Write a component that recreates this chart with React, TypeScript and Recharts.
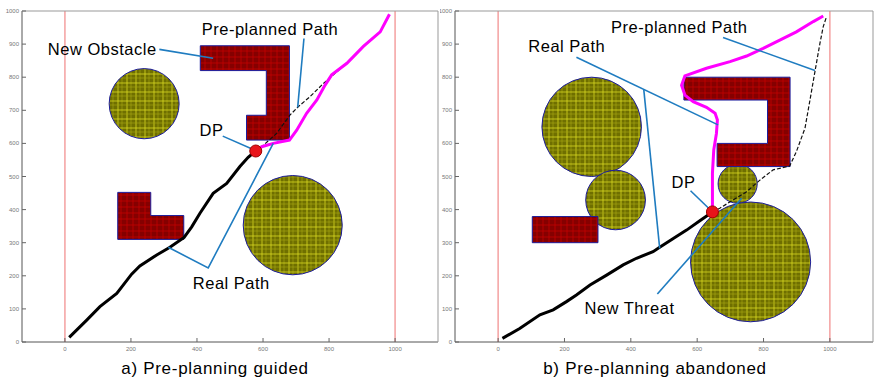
import { ComposedChart, XAxis, YAxis, Line, ReferenceLine, ReferenceArea, ReferenceDot } from "recharts";

// axis ticks (shared by both panels)
const xTicks = [0, 200, 400, 600, 800, 1000];
const yTicks = [0, 100, 200, 300, 400, 500, 600, 700, 800, 900, 1000];

// ---- panel a) Pre-planning guided ----
const circlesA = [
  { cx: 240, cy: 720, r: 106 },
  { cx: 690, cy: 353, r: 150 },
];
const obstacleA1 = [[410, 895], [680, 895], [680, 610], [550, 610], [550, 685], [610, 685], [610, 820], [410, 820]];
const obstacleA2 = [[160, 452], [260, 452], [260, 382], [360, 382], [360, 310], [160, 310]];
const realA = [[13, 14], [66, 66], [106, 107], [157, 147], [202, 205], [227, 230], [278, 263], [318, 286], [361, 316], [384, 348], [409, 389], [449, 449], [490, 479], [530, 530], [555, 558], [578, 577]];
const plannedA = [[578, 577], [596, 590], [641, 630], [682, 686], [707, 711], [742, 741], [783, 781], [813, 807], [864, 852], [914, 902], [955, 937], [983, 988]];
const afterA = [[578, 577], [596, 590], [631, 600], [680, 610], [702, 640], [732, 691], [763, 731], [788, 776], [808, 807], [854, 842], [904, 893], [955, 937], [983, 990]];
const dpA = [578, 577];
const leadersA = [
  [[286, 884], [449, 857]],
  [[724, 917], [705, 709]],
  [[478, 622], [574, 580]],
  [[313, 286], [434, 224], [631, 600]],
];
const labelsA = [
  { text: "New Obstacle", x: 113, y: 884 },
  { text: "Pre-planned Path", x: 621, y: 946 },
  { text: "DP", x: 444, y: 640 },
  { text: "Real Path", x: 504, y: 179 },
];

// ---- panel b) Pre-planning abandoned ----
const circlesB = [
  { cx: 282, cy: 650, r: 150 },
  { cx: 354, cy: 429, r: 90 },
  { cx: 722, cy: 478, r: 59 },
  { cx: 761, cy: 242, r: 181 },
];
const obstacleB1 = [[560, 800], [880, 800], [880, 530], [660, 530], [660, 600], [812, 600], [812, 731], [560, 731]];
const obstacleB2 = [[103, 379], [301, 379], [301, 300], [103, 300]];
const realB = [[13, 11], [65, 41], [126, 82], [166, 97], [206, 122], [236, 142], [277, 172], [327, 202], [377, 233], [417, 253], [467, 273], [487, 286], [528, 313], [568, 338], [608, 366], [646, 393]];
const plannedB = [[646, 393], [668, 404], [708, 429], [749, 454], [789, 489], [829, 520], [879, 532], [899, 575], [925, 646], [940, 731], [955, 817], [970, 902], [980, 953], [990, 983]];
const afterB = [[646, 393], [646, 429], [646, 510], [650, 580], [658, 630], [661, 671], [654, 691], [628, 709], [588, 726], [563, 746], [553, 776], [563, 804], [628, 827], [699, 847], [749, 864], [799, 887], [849, 912], [899, 937], [950, 968], [980, 985]];
const dpB = [646, 393];
const leadersB = [
  [[678, 920], [955, 820]],
  [[236, 860], [663, 656]],
  [[439, 763], [487, 283]],
  [[580, 457], [644, 395]],
  [[480, 145], [734, 434]],
];
const labelsB = [
  { text: "Pre-planned Path", x: 546, y: 952 },
  { text: "Real Path", x: 207, y: 895 },
  { text: "DP", x: 559, y: 482 },
  { text: "New Threat", x: 396, y: 102 },
];

const FONT = "'Liberation Sans', Arial, sans-serif";
const toPts = (arr: number[][]) => arr.map(([x, y]) => ({ x, y }));

const YTick = ({ x, y, payload }: any) => (
  <g>
    <line x1={x} x2={x + 4} y1={y} y2={y} stroke="#666" />
    <text x={x - 3} y={y + 2} textAnchor="end" fontSize={6} fill="#777" fontFamily={FONT}>{payload.value}</text>
  </g>
);
const XTick = ({ x, y, payload }: any) => (
  <g>
    <line x1={x} x2={x} y1={y} y2={y - 4} stroke="#666" />
    <text x={x} y={y + 9} textAnchor="middle" fontSize={6} fill="#777" fontFamily={FONT}>{payload.value}</text>
  </g>
);
const TopTick = ({ x, y }: any) => <line x1={x} x2={x} y1={y} y2={y + 4} stroke="#888" />;
const RightTick = ({ x, y }: any) => <line x1={x} x2={x - 4} y1={y} y2={y} stroke="#888" />;

const polyShape = (poly: number[][], fill: string) => (p: any) => {
  const xs = poly.map((v) => v[0]);
  const ys = poly.map((v) => v[1]);
  const x0 = Math.min(...xs), x1 = Math.max(...xs), y0 = Math.min(...ys), y1 = Math.max(...ys);
  const pts = poly
    .map(([vx, vy]) => `${p.x + ((vx - x0) / (x1 - x0)) * p.width},${p.y + ((y1 - vy) / (y1 - y0)) * p.height}`)
    .join(" ");
  return <polygon points={pts} fill={fill} stroke="#1c1c9c" strokeWidth={1} />;
};
const circleShape = (fill: string) => (p: any) => (
  <ellipse cx={p.x + p.width / 2} cy={p.y + p.height / 2} rx={p.width / 2} ry={p.height / 2} fill={fill} stroke="#1c1c9c" strokeWidth={1} />
);

const Panel = ({ id, margin, circles, obstacles, real, planned, after, dp, leaders, labels }: any) => {
  const olive = `url(#olive-${id})`;
  const red = `url(#red-${id})`;
  return (
    <ComposedChart width={440} height={382} margin={margin}>
      <defs>
        <pattern id={`olive-${id}`} width={9} height={9} patternUnits="userSpaceOnUse">
          <rect width={9} height={9} fill="#6f6f00" />
          <line x1={1} x2={1} y1={0} y2={9} stroke="#d8d820" strokeWidth={0.8} />
          <line x1={5} x2={5} y1={0} y2={9} stroke="#a8a810" strokeWidth={0.6} />
          <line y1={2} y2={2} x1={0} x2={9} stroke="#d8d820" strokeWidth={0.8} />
          <line y1={6} y2={6} x1={0} x2={9} stroke="#a8a810" strokeWidth={0.6} />
        </pattern>
        <pattern id={`red-${id}`} width={6} height={6} patternUnits="userSpaceOnUse">
          <rect width={6} height={6} fill="#850000" />
          <line x1={1} x2={1} y1={0} y2={6} stroke="#c80000" strokeWidth={0.7} />
          <line y1={3} y2={3} x1={0} x2={6} stroke="#c80000" strokeWidth={0.7} />
        </pattern>
      </defs>
      <XAxis dataKey="x" type="number" domain={[-130, 1130]} ticks={xTicks} height={1} tickSize={0} tickMargin={0}
        axisLine={{ stroke: "#555" }} tickLine={false} tick={<XTick />} interval={0} allowDataOverflow />
      <YAxis dataKey="y" type="number" domain={[0, 1000]} ticks={yTicks} width={1} tickSize={0} tickMargin={0}
        axisLine={{ stroke: "#555" }} tickLine={false} tick={<YTick />} interval={0} allowDataOverflow />
      <XAxis xAxisId="top" orientation="top" type="number" domain={[-130, 1130]} ticks={xTicks} height={1} tickSize={0} tickMargin={0}
        axisLine={{ stroke: "#999" }} tickLine={false} tick={<TopTick />} interval={0} />
      <YAxis yAxisId="right" orientation="right" type="number" domain={[0, 1000]} ticks={yTicks} width={1} tickSize={0} tickMargin={0}
        axisLine={{ stroke: "#999" }} tickLine={false} tick={<RightTick />} interval={0} />
      <ReferenceLine x={0} stroke="#f4a0a0" strokeWidth={1.5} />
      <ReferenceLine x={1000} stroke="#f4a0a0" strokeWidth={1.5} />
      {circles.map((c: any, i: number) => (
        <ReferenceArea key={`c${i}`} x1={c.cx - c.r} x2={c.cx + c.r} y1={c.cy - c.r} y2={c.cy + c.r} shape={circleShape(olive)} ifOverflow="visible" />
      ))}
      {obstacles.map((poly: number[][], i: number) => (
        <ReferenceArea key={`o${i}`}
          x1={Math.min(...poly.map((v) => v[0]))} x2={Math.max(...poly.map((v) => v[0]))}
          y1={Math.min(...poly.map((v) => v[1]))} y2={Math.max(...poly.map((v) => v[1]))}
          shape={polyShape(poly, red)} ifOverflow="visible" />
      ))}
      <Line data={toPts(planned)} dataKey="y" type="linear" stroke="#111" strokeWidth={1.2} strokeDasharray="4 2" dot={false} isAnimationActive={false} />
      <Line data={toPts(after)} dataKey="y" type="linear" stroke="#ff00ff" strokeWidth={3} dot={false} isAnimationActive={false} />
      <Line data={toPts(real)} dataKey="y" type="linear" stroke="#000" strokeWidth={3} dot={false} isAnimationActive={false} />
      {leaders.map((l: number[][], i: number) => (
        <Line key={`l${i}`} data={toPts(l)} dataKey="y" type="linear" stroke="#1f7cc0" strokeWidth={1.6} dot={false} isAnimationActive={false} />
      ))}
      <ReferenceDot x={dp[0]} y={dp[1]} r={6} fill="#e8141a" stroke="#a00000" strokeWidth={1} ifOverflow="visible" />
      {labels.map((t: any, i: number) => (
        <ReferenceDot key={`t${i}`} x={t.x} y={t.y} r={0} ifOverflow="visible"
          shape={(p: any) => (
            <text x={p.cx} y={p.cy} dy={6} textAnchor="middle" fontSize={16.5} letterSpacing={0.5} fill="#000" fontFamily={FONT}>{t.text}</text>
          )} />
      ))}
    </ComposedChart>
  );
};

const captionStyle: any = {
  position: "absolute", top: 359, width: 440, textAlign: "center",
  fontFamily: FONT, fontSize: 17, letterSpacing: 0.7, color: "#000",
};

export default function App() {
  return (
    <div style={{ position: "absolute", left: 0, top: 0, width: 880, height: 382, background: "#fff" }}>
      <div style={{ position: "absolute", left: 0, top: 0 }}>
        <Panel id="a" margin={{ top: 10, right: 1, bottom: 39, left: 21 }} circles={circlesA} obstacles={[obstacleA1, obstacleA2]}
          real={realA} planned={plannedA} after={afterA} dp={dpA} leaders={leadersA} labels={labelsA} />
      </div>
      <div style={{ position: "absolute", left: 440, top: 0 }}>
        <Panel id="b" margin={{ top: 10, right: 6, bottom: 39, left: 14 }} circles={circlesB} obstacles={[obstacleB1, obstacleB2]}
          real={realB} planned={plannedB} after={afterB} dp={dpB} leaders={leadersB} labels={labelsB} />
      </div>
      <div style={{ ...captionStyle, left: -5 }}>a) Pre-planning guided</div>
      <div style={{ ...captionStyle, left: 435 }}>b) Pre-planning abandoned</div>
    </div>
  );
}
